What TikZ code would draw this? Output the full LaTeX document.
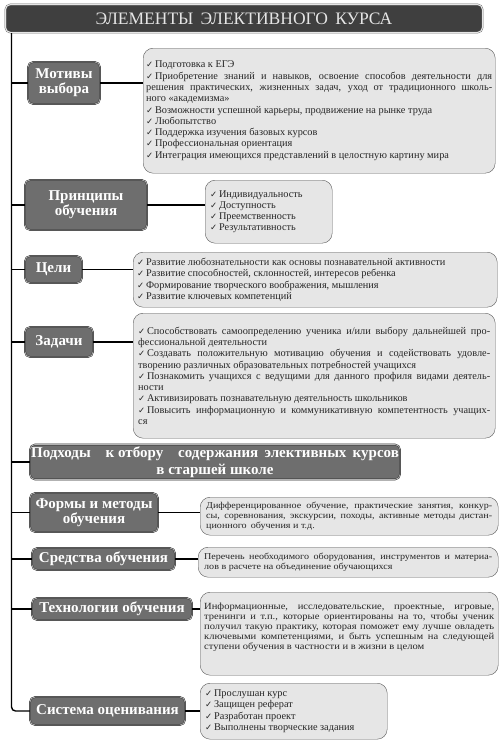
\documentclass[tikz,border=0pt]{standalone}
\usepackage{fontspec}
\setmainfont{Liberation Serif}
\newfontfamily\symfont{DejaVu Sans}
\newfontfamily\widefont{Liberation Serif}[FakeStretch=1.12]
\usepackage{xcolor}
\usetikzlibrary{positioning}
\definecolor{titlegray}{HTML}{3F3F3F}
\definecolor{labelgray}{HTML}{6E6E6E}
\definecolor{boxgray}{HTML}{E6E6E6}
\newcommand{\chk}{{\symfont\fontsize{8.5}{8.5}\selectfont ✓}\,}

\begin{document}
\begin{tikzpicture}[x=1pt, y=-1pt,
  lbl/.style={draw=black!85, double=black!30, double distance=0.8pt, fill=labelgray, rounded corners=5pt,
    text=white, font=\bfseries\fontsize{15}{15}\selectfont, align=center, inner sep=1pt},
  info/.style={draw=black!65, fill=boxgray, rounded corners=10pt, anchor=north west, text=black!85,
    font=\fontsize{10.3}{11.3}\selectfont, align=justify, inner xsep=3pt, inner ysep=1pt},
  prose/.style={info, font=\widefont\fontsize{9}{9.6}\selectfont, inner xsep=6pt},
  link/.style={line width=1.6pt}]
\useasboundingbox (0,0) rectangle (503,742);
\node (title) [lbl, fill=titlegray, draw=black!60, double=white!90!black, double distance=1pt,
  text=black!10, font=\fontsize{17.5}{17.5}\selectfont,
  minimum width=477pt, minimum height=28pt] at (244,18.5) {ЭЛЕМЕНТЫ\, ЭЛЕКТИВНОГО\, КУРСА};
\coordinate (top) at (11.5,33);
% left column
\node (mot) [lbl, minimum width=72pt, minimum height=42pt] at (64,83) {Мотивы\\выбора};
\node (prin) [lbl, minimum width=122pt, minimum height=50pt] at (86,205) {Принципы\\обучения};
\node (celi) [lbl, minimum width=57pt, minimum height=27pt] at (53.5,269.5) {Цели};
\node (zad) [lbl, minimum width=68pt, minimum height=30pt] at (59,342) {Задачи};
\node (podh) [lbl, minimum width=370pt, minimum height=35pt, font=\bfseries\fontsize{15}{16.5}\selectfont]
  at (215,462) {Подходы\quad к отбору\quad содержания\, элективных\, курсов\\в старшей школе};
\node (form) [lbl, minimum width=128pt, minimum height=39pt] at (94,512.5) {Формы и методы\\обучения};
\node (sred) [lbl, minimum width=143pt, minimum height=22pt] at (103.5,559) {Средства обучения};
\node (tech) [lbl, minimum width=160pt, minimum height=22pt] at (112,609) {Технологии обучения};
\node (sys) [lbl, minimum width=155pt, minimum height=28pt] at (107.5,711) {Система оценивания};
% right column
\node (d1) [info, text width=346pt, minimum height=125pt] at (143,48) {%
\chk Подготовка к ЕГЭ\\
\chk Приобретение знаний и навыков, освоение способов деятельности для\linebreak
решения практических, жизненных задач, уход от традиционного школь-\linebreak
ного «академизма»\\
\chk Возможности успешной карьеры, продвижение на рынке труда\\
\chk Любопытство\\
\chk Поддержка изучения базовых курсов\\
\chk Профессиональная ориентация\\
\chk Интеграция имеющихся представлений в целостную картину мира};
\node (d2) [info, text width=117pt, minimum height=63pt, inner xsep=5pt] at (205,180) {%
\chk Индивидуальность\\
\chk Доступность\\
\chk Преемственность\\
\chk Результативность};
\node (d3) [info, text width=356pt, minimum height=55pt, inner xsep=4pt] at (133,252) {%
\chk Развитие любознательности как основы познавательной активности\\
\chk Развитие способностей, склонностей, интересов ребенка\\
\chk Формирование творческого воображения, мышления\\
\chk Развитие ключевых компетенций};
\node (d4) [info, text width=352pt, minimum height=125pt, inner xsep=5pt] at (133,313) {%
\chk Способствовать самоопределению ученика и/или выбору дальнейшей про-\linebreak
фессиональной деятельности\\
\chk Создавать положительную мотивацию обучения и содействовать удовле-\linebreak
творению различных образовательных потребностей учащихся\\
\chk Познакомить учащихся с ведущими для данного профиля видами деятель-\linebreak
ности\\
\chk Активизировать познавательную деятельность школьников\\
\chk Повысить информационную и коммуникативную компетентность учащих-\linebreak
ся};
\node (d6) [prose, text width=286pt, minimum height=38pt] at (200,497) {%
Дифференцированное обучение, практические занятия, конкур-\linebreak
сы, соревнования, экскурсии, походы, активные методы дистан-\linebreak
ционного\, обучения и т.д.};
\node (d7) [prose, text width=288pt, minimum height=30pt] at (198,547) {%
Перечень необходимого оборудования, инструментов и материа-\linebreak
лов в расчете на объединение обучающихся};
\node (d8) [prose, text width=290pt, minimum height=83pt, inner xsep=4pt, font=\widefont\fontsize{9.4}{10}\selectfont]
  at (200,592) {%
Информационные, исследовательские, проектные, игровые,\linebreak
тренинги и т.п., которые ориентированы на то, чтобы ученик\linebreak
получил такую практику, которая поможет ему лучше овладеть\linebreak
ключевыми компетенциями, и быть успешным на следующей\linebreak
ступени обучения в частности и в жизни в целом\par\vspace{12pt}};
\node (d9) [info, text width=177pt, minimum height=56pt, inner xsep=5pt] at (200,683) {%
\chk Прослушан курс\\
\chk Защищен реферат\\
\chk Разработан проект\\
\chk Выполнены творческие задания};
% connectors
\draw[link, line width=1.4pt, rounded corners=4pt] (top) |- (sys.west);
\foreach \n in {mot,prin,celi,zad,podh,form,sred,tech}
  \draw[link] (top |- \n.west) -- (\n.west);
\foreach \a/\b in {mot/d1,prin/d2,celi/d3,zad/d4,form/d6,sred/d7,tech/d8,sys/d9}
  \draw[link] (\a.east) -- (\a.east -| \b.west);
\end{tikzpicture}
\end{document}
